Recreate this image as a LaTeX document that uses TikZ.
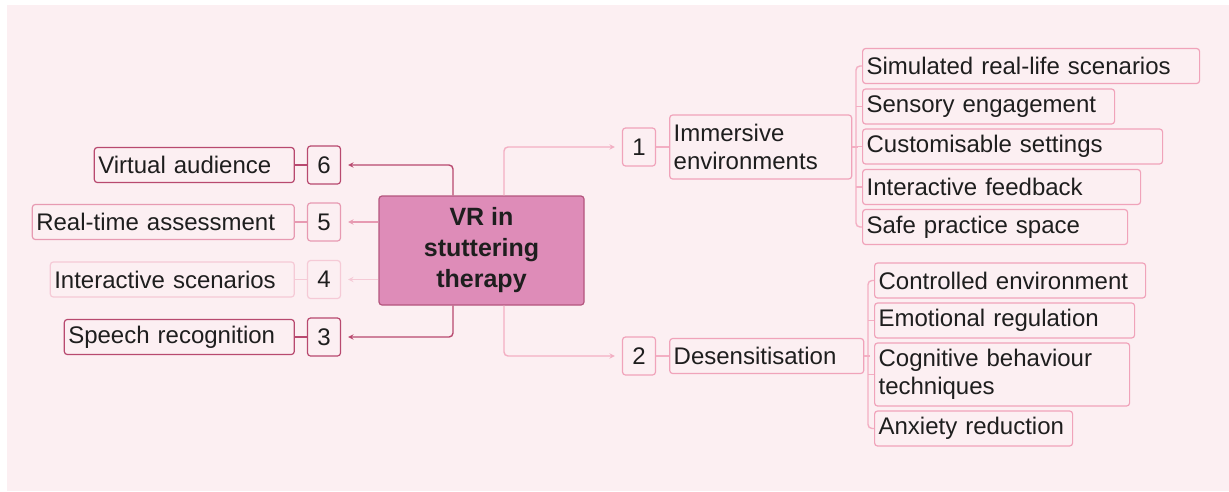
\documentclass[tikz,border=0pt]{standalone}
\usepackage{fontspec}
\setmainfont{Liberation Sans}
\usetikzlibrary{positioning}
\usetikzlibrary{arrows}
\definecolor{bgpink}{HTML}{FCEFF2}
\definecolor{hubfill}{HTML}{DE8CB8}
\definecolor{hubline}{HTML}{B4567E}
\definecolor{darkrose}{HTML}{B8496F}
\definecolor{midrose}{HTML}{E79AB2}
\definecolor{palerose}{HTML}{F5CAD6}
\definecolor{leafpink}{HTML}{F0A3BA}
\definecolor{linkpink}{HTML}{F3AFC3}
\definecolor{ink}{HTML}{1E1E1E}
\tikzstyle{box} = [rectangle, rounded corners=3pt, line width=1.2pt, fill=bgpink, text=ink, font=\fontsize{24}{28}\selectfont, inner xsep=4pt, inner ysep=2pt, minimum height=35pt, align=left]
\tikzstyle{leaf} = [box, draw=leafpink]
\tikzstyle{num} = [box, minimum width=33pt, minimum height=38pt, align=center, inner xsep=0pt]
\tikzstyle{hub} = [rectangle, rounded corners=3pt, line width=1.2pt, draw=hubline, fill=hubfill, text=ink, font=\fontsize{25}{31}\selectfont\bfseries, align=center, minimum width=205pt, minimum height=109pt]
\tikzstyle{link} = [line width=1.4pt, rounded corners=4pt]
\tikzstyle{arrow} = [link, ->, >=stealth, shorten >=7pt]

\begin{document}
\begin{tikzpicture}[x=1pt, y=-1pt]
\path[use as bounding box] (0,0) rectangle (1229,491);
\fill[bgpink] (7,5) rectangle (1229,491);

\node (vr) [hub] at (481.5,250.5) {VR in\\stuttering\\therapy};

% left branches
\node (n6) [num, draw=darkrose] at (324,165) {6};
\node (n5) [num, draw=midrose] at (324,222) {5};
\node (n4) [num, draw=palerose] at (324,279.5) {4};
\node (n3) [num, draw=darkrose] at (324,337) {3};
\node (l6) [box, draw=darkrose, text width=192pt, left=12pt of n6] {Virtual audience};
\node (l5) [box, draw=midrose, text width=254pt, left=12pt of n5] {Real-time assessment};
\node (l4) [box, draw=palerose, text width=236pt, left=12pt of n4] {Interactive scenarios};
\node (l3) [box, draw=darkrose, text width=222pt, left=12pt of n3] {Speech recognition};

\draw [link, darkrose] (l6) -- (n6);
\draw [link, midrose] (l5) -- (n5);
\draw [link, palerose] (l4) -- (n4);
\draw [link, darkrose] (l3) -- (n3);

\draw [arrow, darkrose] ([xshift=-28.5pt]vr.north) |- (n6);
\draw [arrow, midrose] (vr.west |- n5) -- (n5);
\draw [arrow, palerose] (vr.west |- n4) -- (n4);
\draw [arrow, darkrose] ([xshift=-28.5pt]vr.south) |- (n3);

% right branches
\node (n1) [num, draw=leafpink] at (639,147) {1};
\node (imm) [leaf, text width=174pt, minimum height=64pt, right=13pt of n1] {Immersive\\environments};
\node (n2) [num, draw=leafpink] at (639,356) {2};
\node (des) [leaf, text width=186pt, right=13pt of n2] {Desensitisation};

\draw [link, linkpink] (n1) -- (imm);
\draw [link, linkpink] (n2) -- (des);
\draw [arrow, linkpink] ([xshift=22.5pt]vr.north) |- (n1);
\draw [arrow, linkpink] ([xshift=22.5pt]vr.south) |- (n2);

\node (s1) [leaf, text width=329pt, anchor=west] at (862,66) {Simulated real-life scenarios};
\node (s2) [leaf, text width=244pt, anchor=west] at (862,106.5) {Sensory engagement};
\node (s3) [leaf, text width=292pt, anchor=west] at (862,146.5) {Customisable settings};
\node (s4) [leaf, text width=270pt, anchor=west] at (862,187) {Interactive feedback};
\node (s5) [leaf, text width=257pt, anchor=west] at (862,227) {Safe practice space};

\node (c1) [leaf, text width=263pt, anchor=west] at (874,280.5) {Controlled environment};
\node (c2) [leaf, text width=252pt, anchor=west] at (874,320.5) {Emotional regulation};
\node (c3) [leaf, text width=247pt, minimum height=63pt, anchor=west] at (874,374.5) {Cognitive behaviour\\techniques};
\node (c4) [leaf, text width=190pt, anchor=west] at (874,428.5) {Anxiety reduction};

% brackets
\draw [link, linkpink] (imm.east) -- ++(6,0);
\draw [link, linkpink] (s1.west) -- ++(-6,0) |- (s5.west);
\foreach \s in {s2,s3,s4}
  \draw [link, linkpink] (\s.west) -- ++(-6,0);

\draw [link, linkpink] (des.east) -- ++(6,0);
\draw [link, linkpink] (c1.west) -- ++(-6,0) |- (c4.west);
\foreach \c in {c2,c3}
  \draw [link, linkpink] (\c.west) -- ++(-6,0);

\end{tikzpicture}
\end{document}
